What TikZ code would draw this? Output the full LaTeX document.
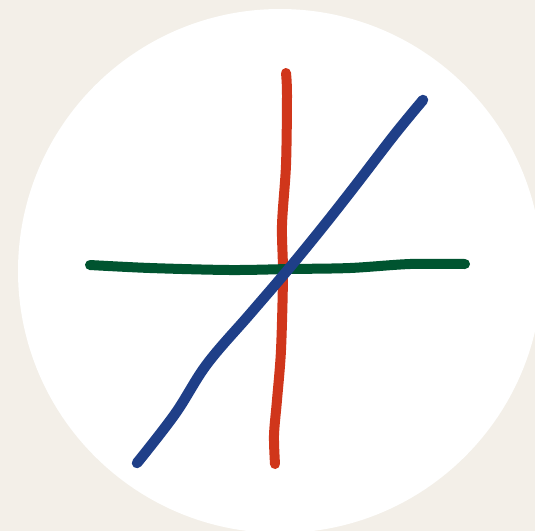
\documentclass[tikz,border=0pt]{standalone}
\definecolor{bgbeige}{HTML}{F3EFE8}
\definecolor{penred}{HTML}{D0361B}
\definecolor{pengreen}{HTML}{005430}
\definecolor{penblue}{HTML}{1F3F88}
\tikzset{pen/.style={line width=10pt,line cap=round,line join=round}}
\begin{document}
\begin{tikzpicture}[x=1pt,y=-1pt]
\useasboundingbox (0,0) rectangle (535,531);
\fill[bgbeige] (0,0) rectangle (535,531);
\begin{scope}
\clip (0,0) rectangle (535,531);
\fill[white] (280,271) circle (262);
\end{scope}
\draw[pen,penred] plot[smooth,tension=0.5] coordinates {(286,73) (287,95) (286,165) (282,225) (283,275) (281,350) (277,400) (274,435) (275,464)};
\draw[pen,pengreen] plot[smooth,tension=0.5] coordinates {(90,265) (150,268) (230,270) (290,269) (350,268) (410,264) (465,264)};
\draw[pen,penblue,line width=10.5pt] plot[smooth,tension=0.6] coordinates {(137,463) (175,414) (207,364) (250,314) (286,272) (322,228) (355,186) (395,134) (423,100)};
\end{tikzpicture}
\end{document}
